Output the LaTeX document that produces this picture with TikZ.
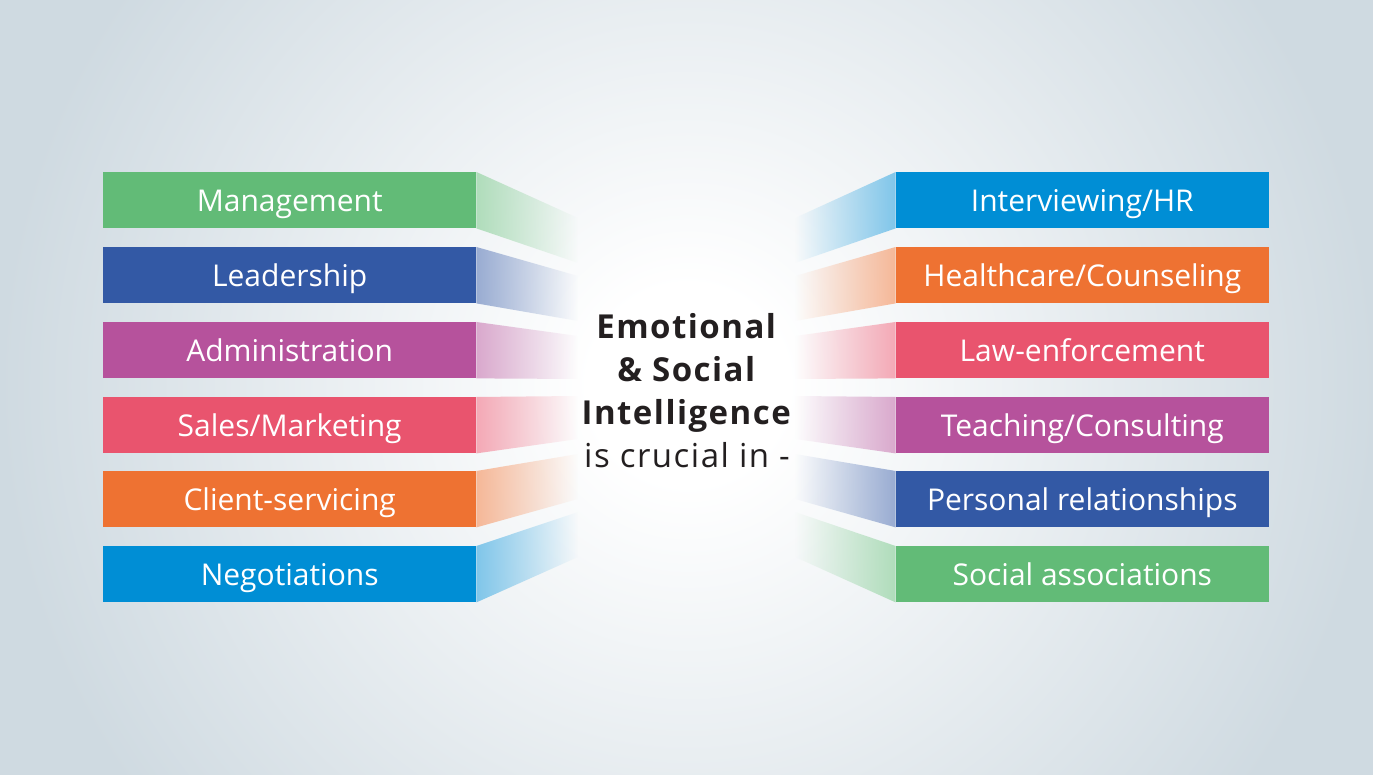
\documentclass[tikz,border=0pt]{standalone}
\usepackage{fontspec}
\setmainfont{Open Sans}
\newfontfamily\ctrfont[LetterSpace=4.5]{Open Sans}
\usetikzlibrary{fadings}
\definecolor{cgreen}{RGB}{98,187,119}
\definecolor{cdblue}{RGB}{51,89,165}
\definecolor{cmag}{RGB}{182,82,156}
\definecolor{cpink}{RGB}{233,84,110}
\definecolor{corange}{RGB}{238,114,50}
\definecolor{cblue}{RGB}{0,142,213}
\definecolor{bgc}{RGB}{207,218,225}
\definecolor{txt}{RGB}{35,31,32}
\tikzfading[name=fadeR, left color=transparent!0, right color=transparent!100]
\tikzfading[name=fadeL, left color=transparent!100, right color=transparent!0]
\pgfdeclareradialshading{bgshade}{\pgfpoint{0bp}{0bp}}{color(0bp)=(white); color(3bp)=(white); color(21bp)=(bgc); color(50bp)=(bgc)}
\tikzset{
  box/.style={minimum width=373pt, minimum height=56pt, inner sep=0pt, text=white,
    text height=25pt, text depth=3pt,
    font=\fontsize{30}{36}\selectfont, fill=#1},
  lbox/.style={box=#1, anchor=north west},
  rbox/.style={box=#1, anchor=north east},
  wedgeR/.style={fill=#1!50!white, path fading=fadeR},
  wedgeL/.style={fill=#1!50!white, path fading=fadeL},
}
\begin{document}
\begin{tikzpicture}[x=1pt,y=-1pt]
\path[use as bounding box] (0,0) rectangle (1373,775);
\begin{scope}
\clip (0,0) rectangle (1373,775);
\shade[shading=bgshade] (688,385) circle (820);
\end{scope}

% left boxes
\node[lbox=cgreen]  (l1) at (103,172) {Management};
\node[lbox=cdblue]  (l2) at (103,247) {Leadership};
\node[lbox=cmag]    (l3) at (103,322) {Administration};
\node[lbox=cpink]   (l4) at (103,397) {Sales/Marketing};
\node[lbox=corange] (l5) at (103,471) {Client-servicing};
\node[lbox=cblue]   (l6) at (103,546) {Negotiations};

% right boxes
\node[rbox=cblue]   (r1) at (1269,172) {Interviewing/HR};
\node[rbox=corange] (r2) at (1269,247) {Healthcare/Counseling};
\node[rbox=cpink]   (r3) at (1269,322) {Law-enforcement};
\node[rbox=cmag]    (r4) at (1269,397) {Teaching/Consulting};
\node[rbox=cdblue]  (r5) at (1269,471) {Personal relationships};
\node[rbox=cgreen]  (r6) at (1269,546) {Social associations};

% left wedges
\fill[wedgeR=cgreen]  (l1.north east) -- (578,218) -- (578,263) -- (l1.south east) -- cycle;
\fill[wedgeR=cdblue]  (l2.north east) -- (578,276) -- (578,321) -- (l2.south east) -- cycle;
\fill[wedgeR=cmag]    (l3.north east) -- (578,336) -- (578,379) -- (l3.south east) -- cycle;
\fill[wedgeR=cpink]   (l4.north east) -- (578,396) -- (578,439) -- (l4.south east) -- cycle;
\fill[wedgeR=corange] (l5.north east) -- (578,454) -- (578,499) -- (l5.south east) -- cycle;
\fill[wedgeR=cblue]   (l6.north east) -- (578,512) -- (578,557) -- (l6.south east) -- cycle;

% right wedges
\fill[wedgeL=cblue]   (r1.north west) -- (795,218) -- (795,263) -- (r1.south west) -- cycle;
\fill[wedgeL=corange] (r2.north west) -- (795,276) -- (795,321) -- (r2.south west) -- cycle;
\fill[wedgeL=cpink]   (r3.north west) -- (795,336) -- (795,379) -- (r3.south west) -- cycle;
\fill[wedgeL=cmag]    (r4.north west) -- (795,396) -- (795,439) -- (r4.south west) -- cycle;
\fill[wedgeL=cdblue]  (r5.north west) -- (795,454) -- (795,499) -- (r5.south west) -- cycle;
\fill[wedgeL=cgreen]  (r6.north west) -- (795,512) -- (795,557) -- (r6.south west) -- cycle;

% centre text
\node[align=center, inner sep=0pt, text=txt, font=\ctrfont\fontsize{33}{43}\selectfont] (c) at (687,391)
  {\textbf{Emotional}\\ \textbf{\& Social}\\ \textbf{Intelligence}\\ is crucial in -};
\end{tikzpicture}
\end{document}
